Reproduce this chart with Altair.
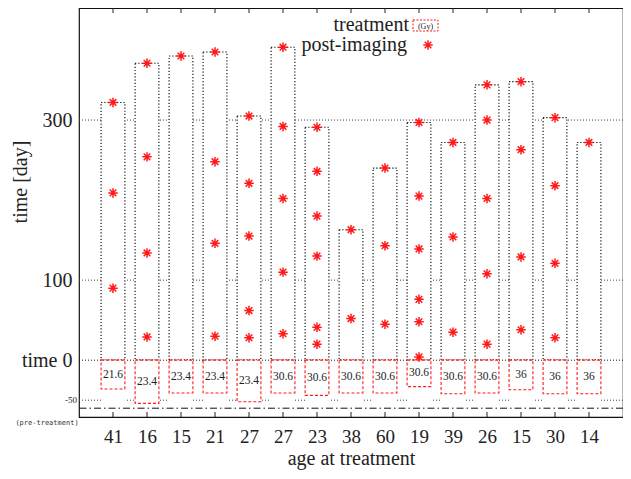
import altair as alt
import pandas as pd

# ---- data ----
ages = [41, 16, 15, 21, 27, 27, 23, 38, 60, 19, 39, 26, 15, 30, 14]
doses = ["21.6", "23.4", "23.4", "23.4", "23.4", "30.6", "30.6", "30.6",
         "30.6", "30.6", "30.6", "30.6", "36", "36", "36"]
treat_days = [36, 54, 41, 41, 52, 41, 44, 41, 41, 33, 42, 41, 37, 42, 42]
imaging = [
    [322, 209, 90],
    [371, 254, 134, 29],
    [380],
    [385, 248, 146, 30],
    [305, 221, 155, 62, 28],
    [391, 292, 202, 110, 33],
    [291, 236, 180, 130, 41, 20],
    [163, 52],
    [240, 143, 45],
    [297, 205, 139, 76, 48, 4],
    [272, 154, 35],
    [344, 300, 202, 108, 20],
    [348, 263, 129, 38],
    [303, 218, 121, 28],
    [272],
]
grid_vals = [300, 100, -50]
ytick_vals = [300, 100, 0]
pre_line = -60

W, H = 544, 409
HALF = 0.35
RED = "#ff1a1a"

pos = list(range(1, len(ages) + 1))
boxes = pd.DataFrame({
    "pos": pos,
    "x0": [p - HALF for p in pos],
    "x1": [p + HALF for p in pos],
    "age": ages,
    "dose": doses,
    "tneg": [-t for t in treat_days],
    "tmid": [-t / 2 for t in treat_days],
    "tmax": [max(v) for v in imaging],
    "zero": [0] * len(ages),
    "wbot": [-57] * len(ages),
})
stars = pd.DataFrame([{"pos": p, "t": t} for p, ts in zip(pos, imaging) for t in ts])

xs = alt.Scale(domain=[0, 16], nice=False, zero=False)
ys = alt.Scale(domain=[-71, 440], nice=False, zero=False)
label_arr = "[''," + ",".join("'%d'" % a for a in ages) + "]"
xaxis = alt.Axis(values=pos, labelExpr=label_arr + "[datum.value]", ticks=False,
                 domain=False, grid=False, title="age at treatment",
                 labelFontSize=19, labelPadding=10, titleFontSize=20,
                 titlePadding=2, titleFontWeight="normal", labelColor="#222",
                 titleColor="#222")
yaxis = alt.Axis(values=ytick_vals,
                 labelExpr="datum.value == 0 ? 'time 0' : datum.label",
                 ticks=False, domain=False, grid=False, title=None,
                 labelFontSize=20, labelPadding=7, labelColor="#222")

X = lambda f: alt.X(f, type="quantitative", scale=xs, axis=xaxis)
Y = lambda f: alt.Y(f, type="quantitative", scale=ys, axis=yaxis)

grid = alt.Chart(pd.DataFrame({"v": grid_vals})).mark_rule(
    color="#444", strokeDash=[1, 2], strokeWidth=1).encode(y=Y("v"))

white = alt.Chart(boxes).mark_rect(fill="white", stroke=None).encode(
    x=X("x0"), x2="x1", y=Y("wbot"), y2="tmax")

zero = alt.Chart(pd.DataFrame({"v": [0]})).mark_rule(
    color="#111", strokeDash=[1, 2], strokeWidth=1).encode(y=Y("v"))

blackbox = alt.Chart(boxes).mark_rect(
    fill="white", fillOpacity=0, stroke="#000", strokeDash=[1.2, 2],
    strokeWidth=1.1).encode(x=X("x0"), x2="x1", y=Y("zero"), y2="tmax")

redbox = alt.Chart(boxes).mark_rect(
    fill="white", stroke=RED, strokeDash=[3, 2], strokeWidth=1.1).encode(
    x=X("x0"), x2="x1", y=Y("tneg"), y2="zero")

dashdot = alt.Chart(pd.DataFrame({"v": [pre_line]})).mark_rule(
    color="#111", strokeDash=[7, 3, 1.5, 3], strokeWidth=1).encode(y=Y("v"))

star_path = "M-1,0L1,0M0,-1L0,1M-0.7,-0.7L0.7,0.7M-0.7,0.7L0.7,-0.7"
pts = alt.Chart(stars).mark_point(
    shape=star_path, filled=False, color=RED, size=90, strokeWidth=1.5,
    opacity=1).encode(x=X("pos"), y=Y("t"))

dose_txt = alt.Chart(boxes).mark_text(fontSize=11.5, color="#222").encode(
    x=X("pos"), y=Y("tmid"), text="dose")

tick_df = pd.DataFrame({"pos": pos})
bot_ticks = alt.Chart(tick_df).mark_rule(color="#222", strokeWidth=1).encode(
    x=X("pos"), y=alt.value(H), y2=alt.value(H - 5))
top_ticks = alt.Chart(tick_df).mark_rule(color="#222", strokeWidth=1).encode(
    x=X("pos"), y=alt.value(0), y2=alt.value(5))

# extra y labels
m50 = alt.Chart(pd.DataFrame({"v": [-50], "s": ["-50"]})).mark_text(
    align="right", baseline="middle", fontSize=9, color="#222", dx=-2).encode(
    x=alt.value(0), y=Y("v"), text="s")
pre_txt = alt.Chart(pd.DataFrame({"s": ["(pre-treatment)"]})).mark_text(
    font="DejaVu Sans Mono", fontSize=7, color="#333", align="center",
    baseline="middle").encode(x=alt.value(-32), y=alt.value(415), text="s")
ytitle = alt.Chart(pd.DataFrame({"s": ["time [day]"]})).mark_text(
    fontSize=20, angle=270, color="#222", align="center",
    baseline="middle").encode(x=alt.value(-58), y=alt.value(174), text="s")

# legend
leg_txt = alt.Chart(pd.DataFrame({"s": ["treatment", "post-imaging"],
                                  "x": [330, 328], "y": [17, 37]})).mark_text(
    fontSize=20, align="right", baseline="middle", color="#222").encode(
    x=alt.X("x:Q", scale=None), y=alt.Y("y:Q", scale=None), text="s")
leg_box = alt.Chart(pd.DataFrame({"a": [0]})).mark_rect(
    fill="white", stroke=RED, strokeDash=[2, 1.5], strokeWidth=1).encode(
    x=alt.value(334), x2=alt.value(359), y=alt.value(12), y2=alt.value(23))
leg_gy = alt.Chart(pd.DataFrame({"s": ["(Gy)"]})).mark_text(
    fontSize=8, color="#222", align="center", baseline="middle").encode(
    x=alt.value(346.5), y=alt.value(18.5), text="s")
leg_star = alt.Chart(pd.DataFrame({"a": [0]})).mark_point(
    shape=star_path, filled=False, color=RED, size=90, strokeWidth=1.5,
    opacity=1).encode(x=alt.value(349), y=alt.value(37))

chart = alt.layer(
    grid, white, zero, blackbox, redbox, dashdot, pts, dose_txt,
    bot_ticks, top_ticks, m50, pre_txt, ytitle,
    leg_txt, leg_box, leg_gy, leg_star,
).properties(
    width=W, height=H,
    padding={"left": 71, "top": 0, "right": 0, "bottom": 54},
    autosize=alt.AutoSizeParams(type="none"),
).configure(font="Liberation Serif").configure_view(
    stroke="#111", strokeWidth=1.2)

chart.save("out.html", embed_options={"renderer": "svg", "actions": False})
